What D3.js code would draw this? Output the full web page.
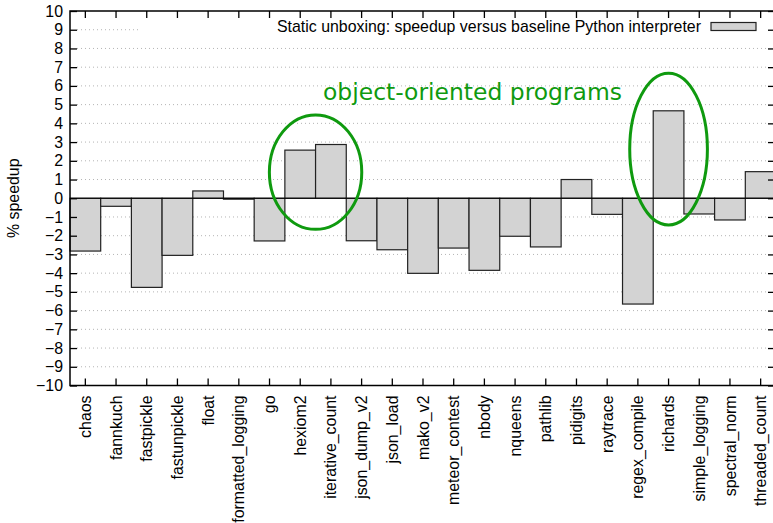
<!DOCTYPE html>
<html>
<head>
<meta charset="utf-8">
<script src="https://cdn.jsdelivr.net/npm/d3@7"></script>
<style>
  html, body { margin: 0; padding: 0; background: #fff; }
  svg { display: block; }
</style>
</head>
<body>
<svg id="chart" width="773" height="523"></svg>
<script>
// Benchmarks and their speedup (%) with static unboxing
const benchmarks = [
  "chaos", "fannkuch", "fastpickle", "fastunpickle", "float", "formatted_logging",
  "go", "hexiom2", "iterative_count", "json_dump_v2", "json_load", "mako_v2",
  "meteor_contest", "nbody", "nqueens", "pathlib", "pidigits", "raytrace",
  "regex_compile", "richards", "simple_logging", "spectral_norm", "threaded_count"
];
const speedup = [
  -2.82, -0.43, -4.76, -3.05, 0.39, -0.05,
  -2.28, 2.57, 2.87, -2.27, -2.75, -4.01,
  -2.66, -3.85, -2.03, -2.6, 1.0, -0.86,
  -5.65, 4.67, -0.84, -1.16, 1.42
];
const yTicks = d3.range(-10, 11, 1);
const seriesLabel = "Static unboxing: speedup versus baseline Python interpreter";
const yTitle = "% speedup";
const noteText = "object-oriented programs";
// benchmark groups circled by the note
const highlighted = [["hexiom2", "iterative_count"], ["richards"]];

const svg = d3.select("#chart");
const plotL = 70, plotR = 776, plotT = 11, plotB = 385.5;

const x = d3.scaleBand().domain(benchmarks).range([plotL, plotR]).padding(0);
const y = d3.scaleLinear().domain([-10, 10]).range([plotB, plotT]);

const font = "'Liberation Sans', Arial, Helvetica, sans-serif";
const fs = 15.9;
const green = "#0f9a0f";

// dotted grid
svg.append("g").selectAll("line")
  .data(yTicks.filter(d => d !== 10 && d !== -10 && d !== 0))
  .join("line")
  .attr("x1", plotL + 7).attr("x2", plotR - 7)
  .attr("y1", d => y(d)).attr("y2", d => y(d))
  .attr("stroke", "#b4b4b4").attr("stroke-width", 1)
  .attr("stroke-dasharray", "1,3");

// bars
svg.append("g").selectAll("rect")
  .data(benchmarks.map((b, i) => ({ b, v: speedup[i] })))
  .join("rect")
  .attr("x", d => x(d.b))
  .attr("width", x.bandwidth())
  .attr("y", d => y(Math.max(0, d.v)))
  .attr("height", d => Math.abs(y(d.v) - y(0)))
  .attr("fill", "#d3d3d3")
  .attr("stroke", "#222").attr("stroke-width", 1.2);

// zero line
svg.append("line")
  .attr("x1", plotL).attr("x2", plotR)
  .attr("y1", y(0)).attr("y2", y(0))
  .attr("stroke", "#000").attr("stroke-width", 1.2);

// axes: left with labels, mirrored ticks on the other sides
const yAxis = d3.axisLeft(y).tickValues(yTicks).tickSize(-7).tickPadding(7).tickFormat(d3.format("d"));
const gy = svg.append("g").attr("transform", `translate(${plotL},0)`).call(yAxis);
gy.select(".domain").remove();
gy.selectAll("text").attr("font-family", font).attr("font-size", fs).attr("fill", "#000");
gy.selectAll("line").attr("stroke", "#000").attr("stroke-width", 1.3);

const gyR = svg.append("g").attr("transform", `translate(${plotR},0)`)
  .call(d3.axisRight(y).tickValues(yTicks).tickSize(-8).tickFormat(""));
gyR.select(".domain").remove();
gyR.selectAll("line").attr("stroke", "#000").attr("stroke-width", 1.3);

const xAxis = d3.axisBottom(x).tickSize(-7).tickPadding(10);
const gx = svg.append("g").attr("transform", `translate(0,${plotB})`).call(xAxis);
gx.select(".domain").remove();
gx.selectAll("line").attr("stroke", "#000").attr("stroke-width", 1.3);
gx.selectAll("text")
  .attr("font-family", font).attr("font-size", fs).attr("fill", "#000")
  .attr("text-anchor", "end")
  .attr("transform", "rotate(-90)")
  .attr("x", -10).attr("y", 0).attr("dy", "0.35em");

const gxT = svg.append("g").attr("transform", `translate(0,${plotT})`)
  .call(d3.axisTop(x).tickSize(-7).tickFormat(""));
gxT.select(".domain").remove();
gxT.selectAll("line").attr("stroke", "#000").attr("stroke-width", 1.3);

// frame
svg.append("rect")
  .attr("x", plotL).attr("y", plotT)
  .attr("width", plotR - plotL).attr("height", plotB - plotT)
  .attr("fill", "none").attr("stroke", "#000").attr("stroke-width", 1.5);

// y title
svg.append("text")
  .attr("transform", `translate(19,${(plotT + plotB) / 2}) rotate(-90)`)
  .attr("text-anchor", "middle")
  .attr("font-family", font).attr("font-size", fs)
  .text(yTitle);

// legend
const legend = svg.append("g");
legend.append("rect")
  .attr("x", 140).attr("y", 19).attr("width", plotR - 8 - 140).attr("height", 17)
  .attr("fill", "#fff");
legend.append("text")
  .attr("x", 701).attr("y", 32)
  .attr("text-anchor", "end")
  .attr("font-family", font).attr("font-size", fs)
  .text(seriesLabel);
legend.append("rect")
  .attr("x", 711).attr("y", 22.5).attr("width", 45).attr("height", 8)
  .attr("fill", "#d3d3d3").attr("stroke", "#222").attr("stroke-width", 1.2);

// note: circled object-oriented benchmarks
const ovals = [
  { names: highlighted[0], vTop: 4.45, vBot: -1.66, padX: 15.5 },
  { names: highlighted[1], vTop: 6.68, vBot: -1.43, padX: 23.5 }
];
const span = d => [x(d.names[0]), x(d.names[d.names.length - 1]) + x.bandwidth()];
svg.append("g").selectAll("ellipse")
  .data(ovals)
  .join("ellipse")
  .attr("cx", d => (span(d)[0] + span(d)[1]) / 2)
  .attr("rx", d => (span(d)[1] - span(d)[0]) / 2 + d.padX)
  .attr("cy", d => (y(d.vTop) + y(d.vBot)) / 2)
  .attr("ry", d => (y(d.vBot) - y(d.vTop)) / 2)
  .attr("fill", "none").attr("stroke", green).attr("stroke-width", 3);

svg.append("text")
  .attr("x", 323).attr("y", 100)
  .attr("font-family", "'DejaVu Sans', sans-serif").attr("font-size", 23)
  .attr("fill", green)
  .attr("textLength", 299).attr("lengthAdjust", "spacingAndGlyphs")
  .text(noteText);
</script>
</body>
</html>
